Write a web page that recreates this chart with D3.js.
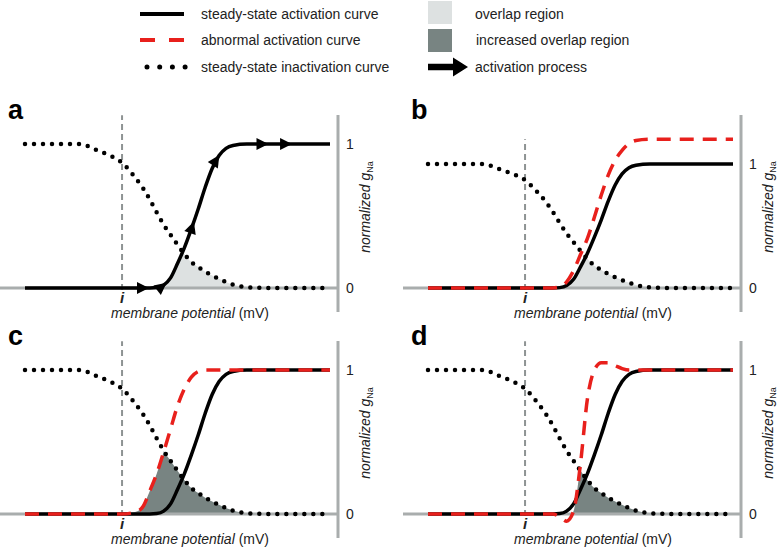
<!DOCTYPE html>
<html><head><meta charset="utf-8">
<script src="https://cdn.jsdelivr.net/npm/d3@7"></script>
<style>
body{margin:0;background:#fff}
svg{display:block;font-family:"Liberation Sans",Arial,sans-serif}
</style>
</head><body>
<svg id="chart" width="780" height="550"></svg>
<script>
// ---------------- data ----------------
const potential    = [-100,-90,-80,-75,-70,-65,-60,-57.5,-55,-52.5,-50,-47.5,-45,-42.5,-40,-37.5,-35,-32.5,-30,-27.5,-25,-20,-15,-10,0,10];
const inactivation = [1,1,1,0.965,0.925,0.87,0.76,0.695,0.615,0.525,0.44,0.37,0.30,0.235,0.18,0.145,0.113,0.087,0.064,0.042,0.024,0.006,0.001,0,0,0];
const activation   = [0,0,0,0,0,0,0,0,0,0.003,0.02,0.07,0.17,0.28,0.41,0.55,0.70,0.83,0.92,0.97,0.99,1,1,1,1,1];
const abnormalB    = [0,0,0,0,0,0,0,0,0,0.01,0.05,0.14,0.27,0.40,0.57,0.75,0.91,1.03,1.11,1.165,1.19,1.2,1.2,1.2,1.2,1.2];
const abnormalC    = [0,0,0,0,0,0,0.015,0.05,0.16,0.28,0.43,0.59,0.75,0.87,0.95,0.99,1,1,1,1,1,1,1,1,1,1];
const abnormalD    = [0,0,0,0,0,0,0,0,0,-0.02,-0.05,0.02,0.35,0.80,1.0,1.05,1.05,1.03,1.01,1,1,1,1,1,1,1];
const arrowPotentials = [-56,-49.5,-39.3,-30.3,-12.9,-4.4];
const restingPotential = -65;           // the "i" marker
const yTickValues = [0,1];
const yTickLabels = ["0","1"];
const panelLetters = ["a","b","c","d"];
const legendLeft  = ["steady-state activation curve","abnormal activation curve","steady-state inactivation curve"];
const legendRight = ["overlap region","increased overlap region","activation process"];

// ---------------- styles ----------------
const RED = "#e8201c", GREY_AX = "#a9adad", GREY_I = "#8e9393";
const LIGHT = "#dde1e1", DARK = "#788482", TXT = "#222";

const svg = d3.select("#chart");

// ---------------- legend ----------------
const leg = svg.append("g");
const legY = [14, 40, 67];
leg.append("line").attr("x1",140).attr("x2",184).attr("y1",legY[0]).attr("y2",legY[0])
   .attr("stroke","#000").attr("stroke-width",4);
leg.append("line").attr("x1",140).attr("x2",186).attr("y1",legY[1]).attr("y2",legY[1])
   .attr("stroke",RED).attr("stroke-width",4).attr("stroke-dasharray","15 14");
leg.append("line").attr("x1",147).attr("x2",186).attr("y1",legY[2]).attr("y2",legY[2])
   .attr("stroke","#000").attr("stroke-width",5).attr("stroke-linecap","round").attr("stroke-dasharray","0 12.7");
legendLeft.forEach((t,i)=>{
  leg.append("text").attr("x",201).attr("y",legY[i]).attr("dy","0.35em")
     .attr("font-size",14).attr("fill",TXT).text(t);
});
leg.append("rect").attr("x",428).attr("y",1).attr("width",24).attr("height",23).attr("fill",LIGHT);
leg.append("rect").attr("x",428).attr("y",29).attr("width",24).attr("height",23).attr("fill",DARK);
leg.append("path").attr("d",`M428,${legY[2]-3.2}H453V${legY[2]-9.5}L468,${legY[2]}L453,${legY[2]+9.5}V${legY[2]+3.2}H428Z`).attr("fill","#000");
legendRight.forEach((t,i)=>{
  leg.append("text").attr("x",i===1?476:475).attr("y",legY[i]).attr("dy","0.35em")
     .attr("font-size",14).attr("fill",TXT).text(t);
});

// ---------------- panels ----------------
const panels = [
  {ox:0,   oy:0,   y1px:144, abnormal:null,      shadeSrc:"act", shade:LIGHT, arrows:true},
  {ox:403, oy:0,   y1px:164, abnormal:abnormalB, shadeSrc:"act", shade:LIGHT, arrows:false},
  {ox:0,   oy:226, y1px:144, abnormal:abnormalC, shadeSrc:"abn", shade:DARK,  arrows:false},
  {ox:403, oy:226, y1px:144, abnormal:abnormalD, shadeSrc:"abn", shade:DARK,  arrows:false}
];

const x = d3.scaleLinear().domain([-100,10]).range([25,330]);

panels.forEach((p,pi)=>{
  const g = svg.append("g").attr("transform",`translate(${p.ox},${p.oy})`);
  const y = d3.scaleLinear().domain([0,1]).range([288,p.y1px]);
  const line = (vals)=> d3.line().x((d,i)=>x(potential[i])).y(d=>y(d)).curve(d3.curveMonotoneX)(vals);
  const area = (vals)=> d3.area().x((d,i)=>x(potential[i])).y0(y(0)).y1(d=>y(d)).curve(d3.curveMonotoneX)(vals);

  const cid = "clip"+pi;
  g.append("clipPath").attr("id",cid).append("path").attr("d",area(inactivation));
  const src = p.shadeSrc==="abn" ? p.abnormal : activation;
  g.append("path").attr("d",area(src)).attr("fill",p.shade).attr("clip-path",`url(#${cid})`);

  g.append("line").attr("x1",0).attr("x2",338).attr("y1",y(0)).attr("y2",y(0))
   .attr("stroke",GREY_AX).attr("stroke-width",3);
  g.append("line").attr("x1",338).attr("x2",338).attr("y1",115).attr("y2",312)
   .attr("stroke",GREY_AX).attr("stroke-width",3);
  yTickValues.forEach((v,i)=>{
    g.append("text").attr("x",346).attr("y",y(v)).attr("dy","0.36em")
     .attr("font-size",14).attr("fill",TXT).text(yTickLabels[i]);
  });
  const yt = g.append("text").attr("transform","translate(370,207) rotate(-90)")
     .attr("text-anchor","middle").attr("font-size",14).attr("fill",TXT);
  yt.append("tspan").attr("font-style","italic").text("normalized g");
  yt.append("tspan").attr("font-size",9).attr("dy",3).text("Na");

  g.append("line").attr("x1",x(restingPotential)).attr("x2",x(restingPotential))
   .attr("y1",y(0)+2).attr("y2",y(1.2))
   .attr("stroke",GREY_I).attr("stroke-width",2).attr("stroke-dasharray","6 4");
  g.append("text").attr("x",x(restingPotential)).attr("y",303).attr("text-anchor","middle")
   .attr("font-size",15).attr("font-weight","bold").attr("font-style","italic").attr("fill",TXT).text("i");

  const xt = g.append("text").attr("x",190).attr("y",318).attr("text-anchor","middle")
     .attr("font-size",14).attr("fill",TXT);
  xt.append("tspan").attr("font-style","italic").text("membrane potential");
  xt.append("tspan").text(" (mV)");

  g.append("text").attr("x",8).attr("y",119).attr("font-size",27).attr("font-weight","bold")
   .attr("fill","#000").text(panelLetters[pi]);

  g.append("path").attr("d",line(inactivation)).attr("fill","none").attr("stroke","#000")
   .attr("stroke-width",4.5).attr("stroke-linecap","round").attr("stroke-dasharray","0 9");
  const act = g.append("path").attr("d",line(activation)).attr("fill","none").attr("stroke","#000")
   .attr("stroke-width",3.5);
  if(p.abnormal){
    g.append("path").attr("d",line(p.abnormal)).attr("fill","none").attr("stroke",RED)
     .attr("stroke-width",3.5).attr("stroke-dasharray","14 9");
  }
  if(p.arrows){
    const node = act.node(), L = node.getTotalLength();
    arrowPotentials.forEach(v=>{
      const tx = x(v);
      let lo=0, hi=L;
      for(let k=0;k<40;k++){ const m=(lo+hi)/2; if(node.getPointAtLength(m).x<tx) lo=m; else hi=m; }
      const pt = node.getPointAtLength(lo);
      const a = node.getPointAtLength(Math.max(0,lo-3)), b = node.getPointAtLength(Math.min(L,lo+3));
      const ang = Math.atan2(b.y-a.y,b.x-a.x)*180/Math.PI;
      g.append("path").attr("d","M2,0L-10,-6L-10,6Z").attr("fill","#000")
       .attr("transform",`translate(${pt.x},${pt.y}) rotate(${ang})`);
    });
  }
});
</script>
</body></html>
